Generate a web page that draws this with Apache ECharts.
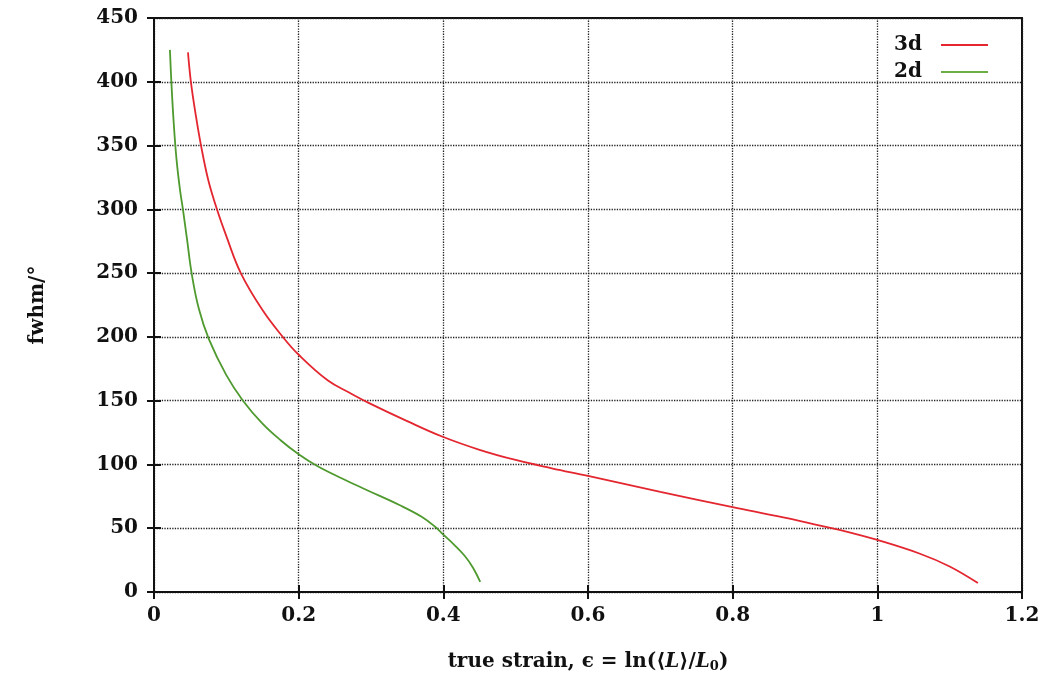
<!DOCTYPE html>
<html>
<head>
<meta charset="utf-8">
<script src="https://cdn.jsdelivr.net/npm/echarts@6/dist/echarts.min.js"></script>
<style>html,body{margin:0;padding:0;background:#fff;}#c{width:1053px;height:680px;}</style>
</head>
<body>
<div id="c"></div>
<script>
// 3d series (strain, fwhm)
var x3d = [0.047, 0.051, 0.058, 0.065, 0.075, 0.087, 0.100, 0.120, 0.150, 0.178, 0.200, 0.240, 0.271, 0.296, 0.350, 0.400, 0.450, 0.500, 0.550, 0.600, 0.700, 0.800, 0.870, 0.921, 0.960, 1.000, 1.059, 1.100, 1.139];
var y3d = [423, 400, 373, 350, 323, 300, 279, 250, 221, 200, 186, 166, 156, 148.5, 134, 121.5, 111.5, 103.5, 97, 91, 78.5, 66.6, 58.5, 52, 47, 40.8, 30, 20, 7];
// 2d series
var x2d = [0.022, 0.024, 0.027, 0.031, 0.036, 0.040, 0.046, 0.052, 0.062, 0.076, 0.100, 0.123, 0.150, 0.175, 0.200, 0.225, 0.260, 0.294, 0.340, 0.370, 0.389, 0.400, 0.415, 0.430, 0.441, 0.451];
var y2d = [425, 400, 370, 340, 315, 300, 275, 250, 222, 198, 170, 150, 132, 119, 108, 99, 89, 80, 68, 59, 51, 45, 37, 28, 19, 8];
var seriesNames = ['3d', '2d'];
var xTickMin = 0, xTickMax = 1.2, xTickStep = 0.2;
var yTickMin = 0, yTickMax = 450, yTickStep = 50;

function pairs(xs, ys) { return xs.map(function (x, i) { return [x, ys[i]]; }); }

var font = 'DejaVu Serif';
var chart = echarts.init(document.getElementById('c'));
var axisCommon = {
  type: 'value',
  axisLine: { show: true, lineStyle: { color: '#111', width: 2 } },
  axisTick: { show: true, inside: true, length: 7, lineStyle: { color: '#111', width: 2 } }
};
chart.setOption({
  backgroundColor: '#fff',
  animation: false,
  grid: { left: 154, right: 31, top: 18, bottom: 88, show: true, borderColor: '#111', borderWidth: 2 },
  legend: {
    orient: 'vertical', right: 60, top: 30, align: 'right',
    icon: 'rect', itemWidth: 47, itemHeight: 2, itemGap: 7,
    textStyle: { fontFamily: font, fontWeight: 'bold', fontSize: 20, color: '#111', padding: [0, 14, 0, 0] },
    data: seriesNames
  },
  xAxis: [
    Object.assign({}, axisCommon, {
      min: xTickMin, max: xTickMax, interval: xTickStep,
      name: '{b|true strain, }{m|ϵ = ln(⟨}{i|L}{m|⟩/}{i|L}{s|0}{m|)}',
      nameLocation: 'middle', nameGap: 58,
      nameTextStyle: {
        rich: {
          b: { fontFamily: font, fontWeight: 'bold', fontSize: 20, color: '#111' },
          m: { fontFamily: font, fontWeight: 'bold', fontSize: 20, color: '#111' },
          i: { fontFamily: font, fontWeight: 'bold', fontStyle: 'italic', fontSize: 20, color: '#111' },
          s: { fontFamily: font, fontWeight: 'bold', fontSize: 13, color: '#111', padding: [10, 0, 0, 0] }
        }
      },
      axisLabel: { fontFamily: font, fontWeight: 'bold', fontSize: 20, color: '#111', margin: 14 },
      splitLine: { show: true, lineStyle: { color: '#222', type: 'dotted', width: 1.3 } }
    }),
    Object.assign({}, axisCommon, {
      position: 'top', min: xTickMin, max: xTickMax, interval: xTickStep,
      axisLabel: { show: false }, splitLine: { show: false }
    })
  ],
  yAxis: [
    Object.assign({}, axisCommon, {
      min: yTickMin, max: yTickMax, interval: yTickStep,
      name: 'fwhm/°', nameLocation: 'middle', nameGap: 106,
      nameTextStyle: { fontFamily: font, fontWeight: 'bold', fontSize: 20, color: '#111' },
      axisLabel: { fontFamily: font, fontWeight: 'bold', fontSize: 20, color: '#111', margin: 16 },
      splitLine: { show: true, lineStyle: { color: '#222', type: 'dotted', width: 1.3 } }
    }),
    Object.assign({}, axisCommon, {
      position: 'right', min: yTickMin, max: yTickMax, interval: yTickStep,
      axisLabel: { show: false }, splitLine: { show: false }
    })
  ],
  series: [
    { name: seriesNames[0], type: 'line', data: pairs(x3d, y3d), smooth: 0.4, symbol: 'none',
      lineStyle: { color: '#e3262f', width: 1.8 }, itemStyle: { color: '#e3262f' } },
    { name: seriesNames[1], type: 'line', data: pairs(x2d, y2d), smooth: 0.4, symbol: 'none',
      lineStyle: { color: '#4e9a2e', width: 1.8 }, itemStyle: { color: '#6aae45' } }
  ]
});
</script>
</body>
</html>
